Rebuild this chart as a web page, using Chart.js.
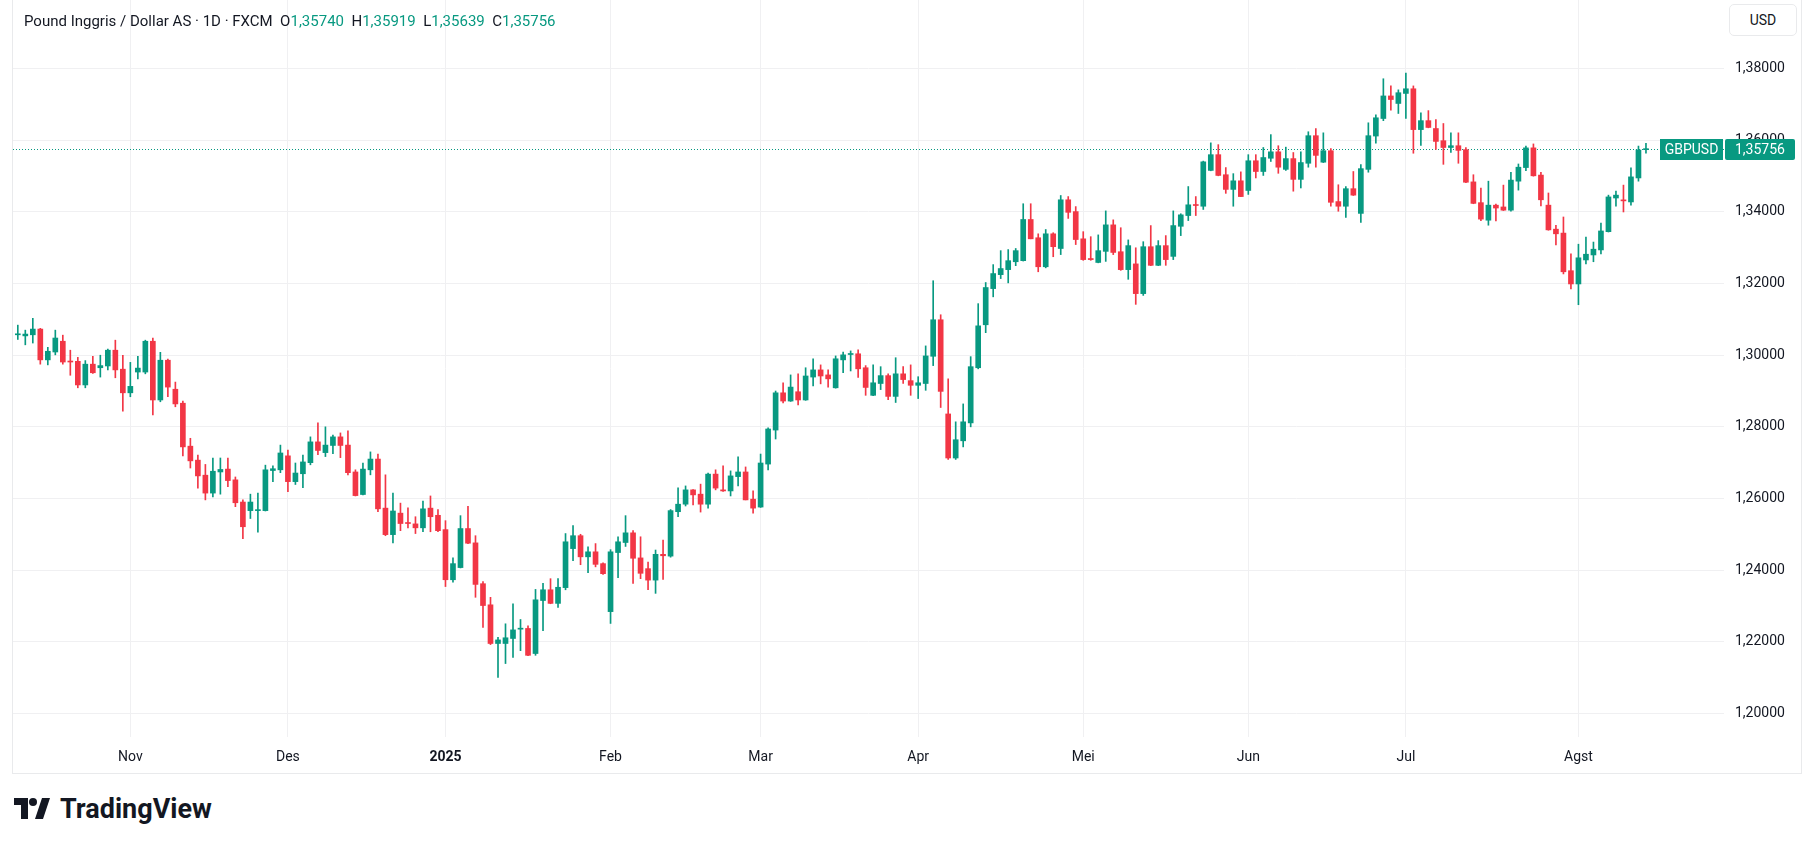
<!DOCTYPE html>
<html>
<head>
<meta charset="utf-8">
<title>GBPUSD 1D</title>
<script src="https://cdn.jsdelivr.net/npm/chart.js@4.4.1/dist/chart.umd.min.js"></script>
<style>
  html, body { margin: 0; padding: 0; background: #ffffff; }
  body { width: 1813px; height: 848px; position: relative; overflow: hidden;
         font-family: Roboto, "Noto Sans", sans-serif; color: #131722; }
  #pane { position: absolute; left: 12px; top: -1px; width: 1788px; height: 773px;
          border: 1px solid #e9eaec; }
  #wrap { position: absolute; left: 0; top: 0; width: 1801px; height: 773px; }
  #legend { position: absolute; left: 24px; top: 12px; font-size: 15px; line-height: 18px; white-space: pre; }
  #legend .v { color: #089981; }
  #usd { position: absolute; left: 1729px; top: 4px; width: 66px; height: 30px; border: 1px solid #e9eaec;
         border-radius: 5px; font-size: 14px; line-height: 30px; text-align: center; background: #fff; }
  #logo { position: absolute; left: 14px; top: 794px; height: 30px; }
  #logo svg { position: absolute; left: 0; top: 4px; }
  #logo span { position: absolute; left: 46px; top: 0; font-size: 27px; font-weight: bold; line-height: 30px; white-space: nowrap; }
</style>
</head>
<body>
<div id="pane"></div>
<div id="wrap"><canvas id="chart"></canvas></div>
<div id="legend"></div>
<div id="usd">USD</div>
<div id="logo">
  <svg width="36" height="22" viewBox="0 0 36 22">
    <path d="M0 0H14V21H7V7H0Z" fill="#131722"/>
    <circle cx="19" cy="4" r="4" fill="#131722"/>
    <path d="M21 21L28 0H36L29 21Z" fill="#131722"/>
  </svg>
  <span>TradingView</span>
</div>
<script>
// GBPUSD daily candles, 11 Oct 2024 .. 14 Aug 2025
const startDate = '2024-10-11';
const holidays = ['2024-12-25', '2025-01-01'];
const monthLabels = ['Nov', 'Des', '2025', 'Feb', 'Mar', 'Apr', 'Mei', 'Jun', 'Jul', 'Agst'];
const priceTicks = [1.20, 1.22, 1.24, 1.26, 1.28, 1.30, 1.32, 1.34, 1.36, 1.38];

const openPrices = [
  1.3057,1.3054,1.3057,1.3073,1.2987,1.3009,1.3039,1.2983,1.2983,1.2917,
  1.2975,1.2965,1.2970,1.3014,1.2961,1.2895,1.2953,1.2953,1.3039,1.2875,
  1.2986,1.2905,1.2866,1.2746,1.2707,1.2665,1.2615,1.2674,1.2682,1.2652,
  1.2590,1.2566,1.2566,1.2566,1.2678,1.2680,1.2719,1.2647,1.2669,1.2700,
  1.2758,1.2728,1.2748,1.2772,1.2749,1.2674,1.2611,1.2680,1.2710,1.2573,
  1.2499,1.2559,1.2531,1.2529,1.2518,1.2573,1.2553,1.2513,1.2373,1.2407,
  1.2516,1.2476,1.2362,1.2303,1.2195,1.2195,1.2209,1.2235,1.2237,1.2167,
  1.2315,1.2345,1.2307,1.2351,1.2460,1.2496,1.2437,1.2451,1.2418,1.2284,
  1.2449,1.2477,1.2504,1.2434,1.2404,1.2372,1.2444,1.2439,1.2563,1.2584,
  1.2624,1.2612,1.2584,1.2668,1.2624,1.2621,1.2661,1.2674,1.2598,1.2576,
  1.2696,1.2791,1.2895,1.2872,1.2898,1.2875,1.2939,1.2959,1.2945,1.2909,
  1.2987,1.3002,1.3004,1.2965,1.2888,1.2921,1.2943,1.2885,1.2948,1.2929,
  1.2916,1.2921,1.2997,1.3099,1.2836,1.2713,1.2761,1.2811,1.2965,1.3085,
  1.3186,1.3225,1.3239,1.3261,1.3264,1.3379,1.3328,1.3247,1.3339,1.3298,
  1.3434,1.3401,1.3325,1.3270,1.3259,1.3290,1.3364,1.3289,1.3239,1.3255,
  1.3172,1.3303,1.3251,1.3306,1.3276,1.3360,1.3390,1.3420,1.3416,1.3516,
  1.3560,1.3504,1.3463,1.3487,1.3460,1.3543,1.3513,1.3550,1.3568,1.3519,
  1.3549,1.3491,1.3536,1.3613,1.3539,1.3571,1.3429,1.3416,1.3465,1.3396,
  1.3519,1.3612,1.3661,1.3724,1.3703,1.3731,1.3744,1.3630,1.3655,1.3633,
  1.3599,1.3580,1.3585,1.3574,1.3484,1.3426,1.3377,1.3419,1.3414,1.3405,
  1.3486,1.3524,1.3579,1.3503,1.3419,1.3352,1.3341,1.3236,1.3199,1.3266,
  1.3280,1.3294,1.3345,1.3439,1.3433,1.3428,1.3495,1.35740
];
const highPrices = [
  1.3084,1.3070,1.3103,1.3075,1.3022,1.3070,1.3056,1.3014,1.2994,1.2985,
  1.2997,1.3000,1.3017,1.3042,1.3000,1.2980,1.2997,1.3042,1.3048,1.3008,
  1.2989,1.2925,1.2872,1.2768,1.2721,1.2695,1.2713,1.2713,1.2713,1.2660,
  1.2596,1.2612,1.2615,1.2693,1.2691,1.2749,1.2735,1.2699,1.2721,1.2772,
  1.2811,1.2800,1.2777,1.2783,1.2789,1.2680,1.2699,1.2730,1.2724,1.2666,
  1.2615,1.2587,1.2574,1.2549,1.2593,1.2607,1.2569,1.2538,1.2434,1.2552,
  1.2578,1.2496,1.2368,1.2324,1.2212,1.2250,1.2306,1.2262,1.2244,1.2346,
  1.2363,1.2376,1.2376,1.2502,1.2524,1.2500,1.2465,1.2474,1.2420,1.2457,
  1.2493,1.2552,1.2510,1.2493,1.2422,1.2456,1.2484,1.2569,1.2630,1.2635,
  1.2625,1.2640,1.2671,1.2680,1.2691,1.2677,1.2716,1.2688,1.2621,1.2724,
  1.2797,1.2900,1.2923,1.2945,1.2948,1.2965,1.2990,1.2973,1.2959,1.2998,
  1.3009,1.3012,1.3015,1.2971,1.2973,1.2968,1.2948,1.2993,1.2968,1.2973,
  1.2940,1.3026,1.3208,1.3113,1.2934,1.2814,1.2864,1.2996,1.3144,1.3203,
  1.3253,1.3292,1.3295,1.3298,1.3423,1.3423,1.3339,1.3351,1.3342,1.3446,
  1.3443,1.3415,1.3345,1.3331,1.3336,1.3403,1.3378,1.3356,1.3322,1.3300,
  1.3317,1.3362,1.3320,1.3334,1.3403,1.3395,1.3471,1.3443,1.3542,1.3593,
  1.3588,1.3524,1.3507,1.3512,1.3560,1.3560,1.3580,1.3616,1.3585,1.3581,
  1.3566,1.3568,1.3624,1.3633,1.3621,1.3577,1.3476,1.3471,1.3513,1.3532,
  1.3649,1.3671,1.3772,1.3752,1.3741,1.3788,1.3752,1.3677,1.3683,1.3658,
  1.3647,1.3621,1.3621,1.3580,1.3504,1.3467,1.3486,1.3422,1.3475,1.3511,
  1.3534,1.3584,1.3590,1.3511,1.3453,1.3363,1.3386,1.3283,1.3310,1.3330,
  1.3316,1.3369,1.3447,1.3458,1.3475,1.3523,1.3584,1.35919
];
const lowPrices = [
  1.3044,1.3029,1.3034,1.2975,1.2973,1.3001,1.2975,1.2944,1.2909,1.2909,
  1.2949,1.2939,1.2959,1.2937,1.2844,1.2884,1.2934,1.2948,1.2833,1.2870,
  1.2884,1.2856,1.2719,1.2685,1.2629,1.2596,1.2604,1.2612,1.2633,1.2577,
  1.2488,1.2544,1.2506,1.2565,1.2647,1.2672,1.2619,1.2639,1.2630,1.2694,
  1.2722,1.2717,1.2725,1.2714,1.2666,1.2607,1.2610,1.2666,1.2563,1.2496,
  1.2476,1.2510,1.2518,1.2502,1.2507,1.2507,1.2507,1.2354,1.2366,1.2406,
  1.2474,1.2324,1.2240,1.2192,1.2100,1.2139,1.2156,1.2175,1.2161,1.2162,
  1.2231,1.2306,1.2296,1.2345,1.2426,1.2415,1.2393,1.2409,1.2388,1.2251,
  1.2379,1.2466,1.2363,1.2376,1.2345,1.2335,1.2374,1.2436,1.2549,1.2579,
  1.2582,1.2562,1.2573,1.2624,1.2620,1.2607,1.2635,1.2596,1.2559,1.2575,
  1.2680,1.2766,1.2867,1.2871,1.2861,1.2874,1.2914,1.2920,1.2911,1.2908,
  1.2951,1.2956,1.2938,1.2888,1.2887,1.2904,1.2876,1.2868,1.2921,1.2888,
  1.2879,1.2902,1.2971,1.2854,1.2709,1.2709,1.2744,1.2800,1.2962,1.3063,
  1.3163,1.3214,1.3202,1.3250,1.3263,1.3325,1.3233,1.3244,1.3275,1.3281,
  1.3382,1.3309,1.3265,1.3265,1.3258,1.3262,1.3281,1.3237,1.3212,1.3142,
  1.3167,1.3250,1.3250,1.3251,1.3267,1.3334,1.3376,1.3390,1.3407,1.3515,
  1.3501,1.3452,1.3416,1.3443,1.3449,1.3495,1.3502,1.3541,1.3508,1.3516,
  1.3458,1.3467,1.3525,1.3525,1.3538,1.3416,1.3402,1.3385,1.3446,1.3371,
  1.3511,1.3592,1.3655,1.3684,1.3675,1.3661,1.3564,1.3586,1.3635,1.3575,
  1.3533,1.3566,1.3536,1.3482,1.3423,1.3376,1.3363,1.3375,1.3404,1.3402,
  1.3461,1.3515,1.3500,1.3417,1.3349,1.3308,1.3227,1.3185,1.3141,1.3255,
  1.3261,1.3283,1.3344,1.3416,1.3400,1.3419,1.3486,1.35639
];
const closePrices = [
  1.3059,1.3059,1.3073,1.2987,1.3011,1.3048,1.2981,1.2981,1.2917,1.2975,
  1.2951,1.2971,1.3014,1.2959,1.2895,1.2913,1.2964,1.3039,1.2875,1.2986,
  1.2911,1.2864,1.2744,1.2705,1.2663,1.2615,1.2676,1.2681,1.2650,1.2588,
  1.2521,1.2590,1.2568,1.2680,1.2683,1.2727,1.2647,1.2671,1.2702,1.2758,
  1.2734,1.2749,1.2772,1.2748,1.2672,1.2608,1.2682,1.2710,1.2571,1.2499,
  1.2565,1.2530,1.2530,1.2518,1.2571,1.2549,1.2510,1.2373,1.2418,1.2516,
  1.2475,1.2360,1.2301,1.2195,1.2205,1.2211,1.2233,1.2237,1.2162,1.2317,
  1.2345,1.2307,1.2352,1.2479,1.2496,1.2437,1.2451,1.2416,1.2390,1.2451,
  1.2479,1.2504,1.2433,1.2391,1.2372,1.2444,1.2440,1.2566,1.2584,1.2624,
  1.2610,1.2584,1.2668,1.2629,1.2621,1.2663,1.2674,1.2596,1.2573,1.2699,
  1.2794,1.2895,1.2872,1.2911,1.2875,1.2942,1.2959,1.2942,1.2934,1.2990,
  1.3001,1.3004,1.2962,1.2910,1.2923,1.2943,1.2885,1.2948,1.2932,1.2916,
  1.2923,1.2998,1.3099,1.2899,1.2713,1.2764,1.2814,1.2968,1.3082,1.3189,
  1.3228,1.3242,1.3264,1.3292,1.3379,1.3325,1.3247,1.3339,1.3303,1.3434,
  1.3399,1.3323,1.3267,1.3267,1.3292,1.3364,1.3287,1.3239,1.3306,1.3172,
  1.3303,1.3251,1.3306,1.3267,1.3362,1.3392,1.3420,1.3418,1.3540,1.3560,
  1.3502,1.3463,1.3487,1.3443,1.3543,1.3513,1.3552,1.3568,1.3525,1.3549,
  1.3491,1.3538,1.3613,1.3558,1.3571,1.3427,1.3416,1.3465,1.3447,1.3521,
  1.3613,1.3663,1.3724,1.3714,1.3733,1.3744,1.3630,1.3655,1.3636,1.3597,
  1.3580,1.3585,1.3572,1.3483,1.3424,1.3380,1.3419,1.3411,1.3405,1.3489,
  1.3525,1.3579,1.3501,1.3434,1.3350,1.3339,1.3233,1.3199,1.3272,1.3282,
  1.3296,1.3347,1.3442,1.3447,1.3431,1.3498,1.3573,1.35756
];

const UP = '#089981';
const DOWN = '#F23645';
const GRID = '#f0f0f2';

// trading days (weekdays minus holidays), one per candle
function buildTradingDays(start, count) {
  const days = [];
  const d = new Date(start + 'T00:00:00Z');
  while (days.length < count) {
    const iso = d.toISOString().slice(0, 10);
    const wd = d.getUTCDay();
    if (wd !== 0 && wd !== 6 && holidays.indexOf(iso) === -1) days.push(iso);
    d.setUTCDate(d.getUTCDate() + 1);
  }
  return days;
}
const tradingDays = buildTradingDays(startDate, closePrices.length);

// first candle of each new month gets a label
const monthStarts = [];
for (let i = 1; i < tradingDays.length; i++) {
  if (tradingDays[i].slice(0, 7) !== tradingDays[i - 1].slice(0, 7)) monthStarts.push(i);
}

function fmt(v) {
  return v.toFixed(5).replace('.', ',');
}

const last = closePrices.length - 1;
const lastColor = closePrices[last] >= openPrices[last] ? UP : DOWN;
document.getElementById('legend').innerHTML =
  'Pound Inggris / Dollar AS · 1D · FXCM  ' +
  'O<span class="v">' + fmt(openPrices[last]) + '</span>  ' +
  'H<span class="v">' + fmt(highPrices[last]) + '</span>  ' +
  'L<span class="v">' + fmt(lowPrices[last]) + '</span>  ' +
  'C<span class="v">' + fmt(closePrices[last]) + '</span>';

const candleColors = closePrices.map((c, i) => c >= openPrices[i] ? UP : DOWN);

const lastPricePlugin = {
  id: 'lastPrice',
  beforeDatasetsDraw(chart) {
    const ctx = chart.ctx;
    const area = chart.chartArea;
    const y = Math.round(chart.scales.y.getPixelForValue(closePrices[last])) + 0.5;
    ctx.save();
    ctx.strokeStyle = lastColor;
    ctx.lineWidth = 1;
    ctx.setLineDash([1, 2]);
    ctx.beginPath();
    ctx.moveTo(area.left, y);
    ctx.lineTo(area.right, y);
    ctx.stroke();
    ctx.restore();
  },
  afterDraw(chart) {
    const ctx = chart.ctx;
    const area = chart.chartArea;
    const y = Math.round(chart.scales.y.getPixelForValue(closePrices[last]));
    ctx.save();
    ctx.fillStyle = lastColor;
    ctx.fillRect(area.right - 64, y - 10, 63, 21);
    ctx.beginPath();
    ctx.roundRect(area.right + 1, y - 10, 70, 21, 2);
    ctx.fill();
    ctx.fillStyle = '#ffffff';
    ctx.font = '14px Roboto, "Noto Sans", sans-serif';
    ctx.textBaseline = 'middle';
    ctx.textAlign = 'center';
    ctx.fillText('GBPUSD', area.right - 32.5, y + 1);
    ctx.textAlign = 'left';
    ctx.fillText(fmt(closePrices[last]), area.right + 11, y + 1);
    ctx.restore();
  }
};

new Chart(document.getElementById('chart'), {
  type: 'bar',
  data: {
    labels: tradingDays,
    datasets: [
      {
        label: 'body',
        data: openPrices.map((o, i) => ({ x: i, y: [o, closePrices[i]] })),
        backgroundColor: candleColors,
        borderWidth: 0,
        barThickness: 5,
        minBarLength: 1,
        grouped: false
      },
      {
        label: 'wick',
        data: lowPrices.map((l, i) => ({ x: i, y: [l, highPrices[i]] })),
        backgroundColor: candleColors,
        borderWidth: 0,
        barThickness: 1,
        grouped: false
      }
    ]
  },
  options: {
    responsive: true,
    maintainAspectRatio: false,
    animation: false,
    layout: { padding: { left: 13, top: 0, right: 0, bottom: 0 } },
    plugins: { legend: { display: false }, tooltip: { enabled: false } },
    scales: {
      x: {
        type: 'linear',
        offset: false,
        min: -0.64,
        max: 227.4,
        grid: { color: GRID, drawTicks: false, offset: false },
        border: { display: false },
        afterBuildTicks: (scale) => { scale.ticks = monthStarts.map(v => ({ value: v })); },
        afterFit: (scale) => {
          scale.height = 36;
          scale.paddingLeft = 0;
          scale.paddingRight = 0;
        },
        ticks: {
          autoSkip: false,
          maxRotation: 0,
          padding: 12,
          color: '#131722',
          font: (c) => ({
            family: 'Roboto, "Noto Sans", sans-serif',
            size: 14,
            weight: (c.tick && c.index === monthLabels.indexOf('2025')) ? 'bold' : 'normal'
          }),
          callback: (value, index) => monthLabels[index]
        }
      },
      y: {
        position: 'right',
        min: 1.19339,
        max: 1.39919,
        grid: { color: GRID, drawTicks: false },
        border: { display: false },
        afterBuildTicks: (scale) => { scale.ticks = priceTicks.map(v => ({ value: v })); },
        afterFit: (scale) => {
          scale.width = 77;
          scale.paddingTop = 0;
          scale.paddingBottom = 0;
        },
        ticks: {
          padding: 11,
          color: '#131722',
          font: { family: 'Roboto, "Noto Sans", sans-serif', size: 14 },
          callback: (value) => fmt(value)
        }
      }
    }
  },
  plugins: [lastPricePlugin]
});
</script>
</body>
</html>
